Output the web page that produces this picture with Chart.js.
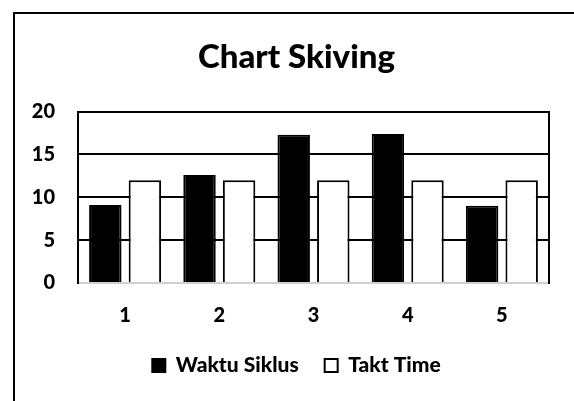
<!DOCTYPE html>
<html>
<head>
<meta charset="utf-8">
<script src="https://cdn.jsdelivr.net/npm/chart.js@4"></script>
<style>
  html, body { margin: 0; padding: 0; background: #fff; overflow: hidden; }
  #wrap { position: relative; width: 574px; height: 401px; overflow: hidden; }
  #myChart { position: absolute; left: 13px; top: 0; }
  #frame {
    position: absolute; left: 13px; top: 12px; width: 600px; height: 440px;
    border: 2px solid #000; pointer-events: none;
  }
</style>
</head>
<body>
<div id="wrap">
  <canvas id="myChart" width="567" height="401"></canvas>
  <div id="frame"></div>
</div>
<script>
// --- données ---
const categories = ['1', '2', '3', '4', '5'];
const waktuSiklus = [9.1, 12.6, 17.3, 17.4, 9.0];
const taktTime = [12, 12, 12, 12, 12];
const yTicks = [0, 5, 10, 15, 20];

const FONT = 'Lato, "Noto Sans", sans-serif';

document.addEventListener('DOMContentLoaded', () => {
    const ctx = document.getElementById('myChart');

    new Chart(ctx, {
        type: 'bar',
        data: {
            labels: categories,
            datasets: [
                {
                    label: 'Waktu Siklus',
                    data: waktuSiklus,
                    backgroundColor: '#000',
                    borderColor: '#000',
                    borderWidth: 2
                },
                {
                    label: 'Takt Time',
                    data: taktTime,
                    backgroundColor: '#fff',
                    borderColor: '#000',
                    borderWidth: 2
                }
            ]
        },
        options: {
            responsive: false,
            animation: false,
            layout: { padding: { left: 0, right: 0, top: 0, bottom: 15 } },
            datasets: {
                bar: { categoryPercentage: 0.84, barPercentage: 0.82 }
            },
            plugins: {
                title: {
                    display: true,
                    text: 'Chart Skiving',
                    color: '#000',
                    font: { family: FONT, size: 33, weight: 900 },
                    padding: { top: 38, bottom: 34 }
                },
                legend: {
                    position: 'bottom',
                    labels: {
                        color: '#000',
                        font: { family: FONT, size: 21, weight: 900 },
                        boxWidth: 13,
                        boxHeight: 13,
                        padding: 26
                    }
                },
                tooltip: { enabled: false }
            },
            scales: {
                x: {
                    afterFit: (scale) => { scale.height = 46; },
                    grid: { display: false, drawTicks: false },
                    border: { display: true, color: '#d0d0d0', width: 2 },
                    ticks: {
                        color: '#000',
                        padding: 21,
                        font: { family: FONT, size: 20, weight: 900 }
                    }
                },
                y: {
                    min: 0,
                    max: 20,
                    afterBuildTicks: (scale) => {
                        scale.ticks = yTicks.map(v => ({ value: v }));
                    },
                    afterFit: (scale) => { scale.width = 65; },
                    grid: {
                        drawTicks: false,
                        lineWidth: 2,
                        color: (c) => (c.tick && c.tick.value === 0 ? 'rgba(0,0,0,0)' : '#000')
                    },
                    border: { display: true, color: '#000', width: 2 },
                    ticks: {
                        color: '#000',
                        padding: 23,
                        font: { family: FONT, size: 20, weight: 900 }
                    }
                },
                yRight: {
                    position: 'right',
                    min: 0,
                    max: 20,
                    afterFit: (scale) => { scale.width = 31; },
                    grid: { display: false, drawTicks: false },
                    border: { display: true, color: '#000', width: 2 },
                    ticks: { display: false }
                }
            }
        }
    });
});
</script>
</body>
</html>
